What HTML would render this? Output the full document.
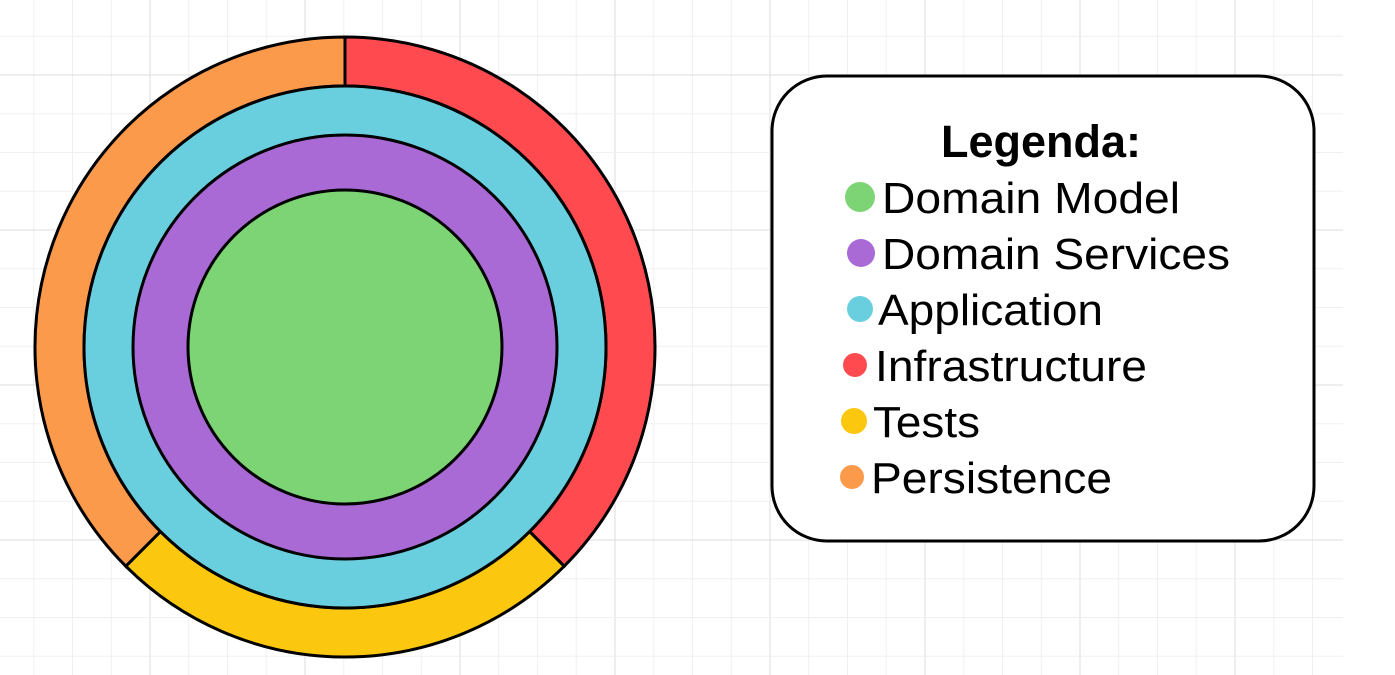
<!DOCTYPE html>
<html><head><meta charset="utf-8"><style>
html,body{margin:0;padding:0;background:#fff;}
svg{display:block;}
</style></head><body>
<svg id="chart" width="1395" height="675" viewBox="0 0 1395 675" xmlns="http://www.w3.org/2000/svg" font-family="'Liberation Sans', Arial, sans-serif">
<g id="grid"></g>
<g id="rings"></g>
<g id="legend">
  <rect x="772" y="76" width="542" height="465" rx="55" ry="55" fill="#fff" stroke="#000" stroke-width="3"/>
  <text x="1041" y="157" text-anchor="middle" font-size="45" font-weight="bold" fill="#000">Legenda:</text>
</g>
</svg>
<script>
const layerNames = ["Domain Model","Domain Services","Application"];
const layerColors = ["#7dd474","#aa6ad6","#69cfdf"];
const layerRadii = [157,212,261];
const outerNames = ["Infrastructure","Tests","Persistence"];
const outerColors = ["#ff4b4f","#fcc70f","#fc9a4c"];
const outerDegrees = [135,90,135];
const legendNames = ["Domain Model","Domain Services","Application","Infrastructure","Tests","Persistence"];
const legendColors = ["#7dd474","#aa6ad6","#69cfdf","#ff4b4f","#fcc70f","#fc9a4c"];

const NS="http://www.w3.org/2000/svg";
function mk(tag,parent){const e=document.createElementNS(NS,tag);parent.appendChild(e);return e;}
// grid
const grid=document.getElementById('grid');
for(let i=0;;i++){const x=-5+i*38.75;if(x>1344)break;
  const l=mk('line',grid);
  
  
  l.setAttribute('x1',x);l.setAttribute('x2',x);l.setAttribute('y1',0);l.setAttribute('y2',675);
  l.setAttribute('stroke',i%4===0?'#dcdcdc':'#f0f0f0');l.setAttribute('stroke-width',1);}
for(let i=0;;i++){const y=-80+i*38.75;if(y>675)break;if(y<0)continue;
  const l=mk('line',grid);
  
  
  l.setAttribute('x1',0);l.setAttribute('x2',1343);l.setAttribute('y1',y);l.setAttribute('y2',y);
  l.setAttribute('stroke',i%4===0?'#dcdcdc':'#f0f0f0');l.setAttribute('stroke-width',1);}
// rings
const cx=345,cy=347,R=310;
const rings=document.getElementById('rings');
const total=outerDegrees.reduce((a,b)=>a+b,0);
let acc=0;
function pt(r,deg){const a=(deg-90)*Math.PI/180;return [cx+r*Math.cos(a),cy+r*Math.sin(a)];}
outerDegrees.forEach((v,i)=>{
  const a0=acc/total*360, a1=(acc+v)/total*360; acc+=v;
  const [x0,y0]=pt(R,a0),[x1,y1]=pt(R,a1),[x2,y2]=pt(layerRadii[2],a1),[x3,y3]=pt(layerRadii[2],a0);
  const big=(a1-a0)>180?1:0;
  const p=mk('path',rings);
  
  
  p.setAttribute('d',`M${x0},${y0} A${R},${R} 0 ${big} 1 ${x1},${y1} L${x2},${y2} A${layerRadii[2]},${layerRadii[2]} 0 ${big} 0 ${x3},${y3} Z`);
  p.setAttribute('fill',outerColors[i]);p.setAttribute('stroke','#000');p.setAttribute('stroke-width',3);
});
for(let i=layerRadii.length-1;i>=0;i--){
  const c=mk('circle',rings);
  
  
  c.setAttribute('cx',cx);c.setAttribute('cy',cy);c.setAttribute('r',layerRadii[i]);
  c.setAttribute('fill',layerColors[i]);c.setAttribute('stroke','#000');c.setAttribute('stroke-width',3);
}
// legend
const lg=document.getElementById('legend');
const dotX=[860,861,860,855,854,852], dotR=[15,14,13,12,13,12], txtX=[882,882,878,875,873,871];
const txtW=[298,348,225,272,107,241];
legendNames.forEach((n,i)=>{
  const y=197+i*56;
  const c=mk('circle',lg);
  
  
  c.setAttribute('cx',dotX[i]);c.setAttribute('cy',y);c.setAttribute('r',dotR[i]);c.setAttribute('fill',legendColors[i]);
  const t=mk('text',lg);
  
  
  t.setAttribute('x',txtX[i]);t.setAttribute('y',y+16);t.setAttribute('font-size',44);t.setAttribute('fill','#000');
  t.setAttribute('textLength',txtW[i]);t.setAttribute('lengthAdjust','spacingAndGlyphs');
  t.textContent=n;
});
</script>
</body></html>
